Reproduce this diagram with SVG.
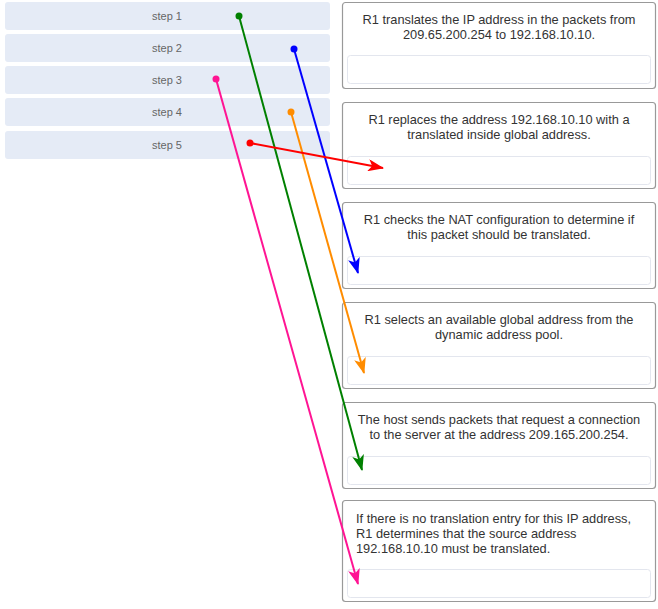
<svg xmlns="http://www.w3.org/2000/svg" width="658" height="609" viewBox="0 0 658 609">
<style>
.step{fill:#e5ebf6;}
.st{font-family:"Liberation Sans",Arial,sans-serif;font-size:11px;fill:#666;text-anchor:middle;}
.card{fill:#fff;stroke:#999;stroke-width:1.2;}
.slot{fill:#fff;stroke:#e3e6ee;stroke-width:1;}
.ct{font-family:"Liberation Sans",Arial,sans-serif;font-size:12.8px;fill:#333;text-anchor:middle;}
.lt{font-family:"Liberation Sans",Arial,sans-serif;font-size:12.8px;fill:#333;}
.ln{stroke-width:2;fill:none;}
</style>
<defs>
<marker id="ah-g" viewBox="0 0 16 12" refX="15" refY="6" markerWidth="16" markerHeight="12" markerUnits="userSpaceOnUse" orient="auto"><path d="M0,0 L16,6 L0,12 L4,6 Z" fill="#008000"/></marker>
<marker id="ah-b" viewBox="0 0 16 12" refX="15" refY="6" markerWidth="16" markerHeight="12" markerUnits="userSpaceOnUse" orient="auto"><path d="M0,0 L16,6 L0,12 L4,6 Z" fill="#0000ff"/></marker>
<marker id="ah-p" viewBox="0 0 16 12" refX="15" refY="6" markerWidth="16" markerHeight="12" markerUnits="userSpaceOnUse" orient="auto"><path d="M0,0 L16,6 L0,12 L4,6 Z" fill="#ff1493"/></marker>
<marker id="ah-o" viewBox="0 0 16 12" refX="15" refY="6" markerWidth="16" markerHeight="12" markerUnits="userSpaceOnUse" orient="auto"><path d="M0,0 L16,6 L0,12 L4,6 Z" fill="#ff8c00"/></marker>
<marker id="ah-r" viewBox="0 0 16 12" refX="15" refY="6" markerWidth="16" markerHeight="12" markerUnits="userSpaceOnUse" orient="auto"><path d="M0,0 L16,6 L0,12 L4,6 Z" fill="#ff0000"/></marker>
</defs>

<g id="step1"><rect class="step" x="5" y="2" width="325" height="28" rx="3"/><text class="st" x="167" y="20">step 1</text></g>
<g id="step2"><rect class="step" x="5" y="34" width="325" height="28" rx="3"/><text class="st" x="167" y="52">step 2</text></g>
<g id="step3"><rect class="step" x="5" y="66" width="325" height="28" rx="3"/><text class="st" x="167" y="84">step 3</text></g>
<g id="step4"><rect class="step" x="5" y="98" width="325" height="28" rx="3"/><text class="st" x="167" y="116">step 4</text></g>
<g id="step5"><rect class="step" x="5" y="131" width="325" height="28" rx="3"/><text class="st" x="167" y="149">step 5</text></g>

<g id="card1"><rect class="card" x="342.5" y="2.5" width="313" height="86" rx="3"/>
<text class="ct" x="499" y="23.5">R1 translates the IP address in the packets from</text>
<text class="ct" x="499" y="38.5">209.65.200.254 to 192.168.10.10.</text>
<rect class="slot" x="347.5" y="55.5" width="303" height="28" rx="3"/></g>

<g id="card2"><rect class="card" x="342.5" y="102.5" width="313" height="86" rx="3"/>
<text class="ct" x="499" y="123.5">R1 replaces the address 192.168.10.10 with a</text>
<text class="ct" x="499" y="138.5">translated inside global address.</text>
<rect class="slot" x="347.5" y="156.5" width="303" height="28" rx="3"/></g>

<g id="card3"><rect class="card" x="342.5" y="202.5" width="313" height="86" rx="3"/>
<text class="ct" x="499" y="224">R1 checks the NAT configuration to determine if</text>
<text class="ct" x="499" y="239">this packet should be translated.</text>
<rect class="slot" x="347.5" y="256.5" width="303" height="28" rx="3"/></g>

<g id="card4"><rect class="card" x="342.5" y="302.5" width="313" height="86" rx="3"/>
<text class="ct" x="499" y="324">R1 selects an available global address from the</text>
<text class="ct" x="499" y="339">dynamic address pool.</text>
<rect class="slot" x="347.5" y="356.5" width="303" height="28" rx="3"/></g>

<g id="card5"><rect class="card" x="342.5" y="402.5" width="313" height="86" rx="3"/>
<text class="ct" x="499" y="424">The host sends packets that request a connection</text>
<text class="ct" x="499" y="439">to the server at the address 209.165.200.254.</text>
<rect class="slot" x="347.5" y="456.5" width="303" height="28" rx="3"/></g>

<g id="card6"><rect class="card" x="342.5" y="500.5" width="313" height="101" rx="3"/>
<text class="lt" x="356" y="522.5">If there is no translation entry for this IP address,</text>
<text class="lt" x="356" y="537.5">R1 determines that the source address</text>
<text class="lt" x="356" y="552.5">192.168.10.10 must be translated.</text>
<rect class="slot" x="347.5" y="569.5" width="303" height="28" rx="3"/></g>

<g id="connectors">
<line class="ln" stroke="#008000" x1="239" y1="16" x2="362" y2="470" marker-end="url(#ah-g)"/>
<circle cx="239" cy="16" r="3.5" fill="#008000"/>
<line class="ln" stroke="#0000ff" x1="294" y1="49" x2="358" y2="273" marker-end="url(#ah-b)"/>
<circle cx="294" cy="49" r="3.5" fill="#0000ff"/>
<line class="ln" stroke="#ff1493" x1="216" y1="79" x2="358" y2="584" marker-end="url(#ah-p)"/>
<circle cx="216" cy="79" r="3.5" fill="#ff1493"/>
<line class="ln" stroke="#ff8c00" x1="291" y1="112" x2="364" y2="373" marker-end="url(#ah-o)"/>
<circle cx="291" cy="112" r="3.5" fill="#ff8c00"/>
<line class="ln" stroke="#ff0000" x1="250" y1="143" x2="383" y2="168" marker-end="url(#ah-r)"/>
<circle cx="250" cy="143" r="3.5" fill="#ff0000"/>
</g>
</svg>
